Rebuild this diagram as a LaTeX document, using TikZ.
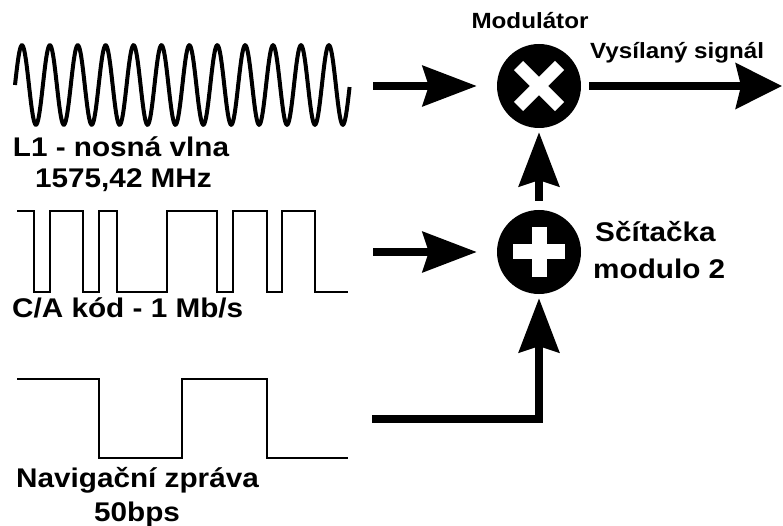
\documentclass[tikz,border=0pt]{standalone}
\usepackage{fontspec}
\newfontfamily\labfont[FakeStretch=1.1]{Liberation Sans}
\usetikzlibrary{arrows.meta}
\begin{document}
\begin{tikzpicture}[x=1pt,y=-1pt,
  lab/.style={font=\labfont\bfseries\fontsize{27}{32}\selectfont, inner sep=0pt},
  labsmall/.style={font=\labfont\bfseries\fontsize{22}{26}\selectfont, inner sep=0pt},
  op/.style={circle, fill=black, minimum size=84pt, inner sep=0pt},
  sig/.style={line width=8pt, -{Stealth[length=54pt,width=40pt,inset=6pt]}},
  sigout/.style={line width=8pt, -{Stealth[length=46pt,width=45pt,inset=5pt]}},
  symb/.style={white, line width=13pt}]

\useasboundingbox (0,0) rectangle (783,526);

% operators
\node[op] (mod) at (539,86) {};
\node[op] (add) at (539,252) {};
\draw[symb] (mod.center) +(-20.5,-20.5) -- +(20.5,20.5);
\draw[symb] (mod.center) +(-20.5,20.5) -- +(20.5,-20.5);
\draw[white, line width=15pt] (add.center) +(-26,0) -- +(26,0);
\draw[white, line width=15pt] (add.center) +(0,-25) -- +(0,25);

% signals
\draw[line width=4pt] plot[domain=0:12, samples=600] ({15+27.9*\x}, {85-39.7*sin(360*\x)});
\draw[line width=2pt] (17,211) -- (34,211) -- (34,292) -- (50,292) -- (50,211) -- (83,211)
  -- (83,292) -- (99,292) -- (99,211) -- (117,211) -- (117,292) -- (167,292) -- (167,211)
  -- (217,211) -- (217,292) -- (233,292) -- (233,211) -- (267,211) -- (267,292) -- (282,292)
  -- (282,211) -- (315,211) -- (315,292) -- (348,292);
\draw[line width=2.5pt] (17,379) -- (99,379) -- (99,458) -- (182,458) -- (182,379)
  -- (267,379) -- (267,458) -- (348,458);

% labels
\node[lab, anchor=base] (l1a) at (121,157) {L1 - nosná vlna};
\node[lab, anchor=base] (l1b) at (123.5,188) {1575,42 MHz};
\node[lab, anchor=base west] (ca) at (12,317) {C/A kód - 1 Mb/s};
\node[lab, anchor=base] (nava) at (137.5,487) {Navigační zpráva};
\node[lab, anchor=base] (navb) at (137,521) {50bps};
\node[labsmall, anchor=base] (modl) at (530,29) {Modulátor};
\node[labsmall, anchor=base west] (outl) at (590,59) {Vysílaný signál};
\node[lab, anchor=base west] (adda) at (595,242) {Sčítačka};
\node[lab, anchor=base west] (addb) at (593,278) {modulo 2};

% connectors
\coordinate (carIn) at (373,86);
\coordinate (caIn) at (373,252);
\coordinate (navIn) at (372,419);
\coordinate (out) at (782,86);
\draw[sig, shorten >=20pt] (carIn) -- (mod);
\draw[sig, shorten >=20pt] (caIn) -- (add);
\draw[sig, shorten <=9pt, shorten >=4pt] (add) -- (mod);
\draw[sig, shorten >=4pt] (navIn) -| (add);
\draw[sigout, shorten <=8pt] (mod) -- (out);
\end{tikzpicture}
\end{document}
